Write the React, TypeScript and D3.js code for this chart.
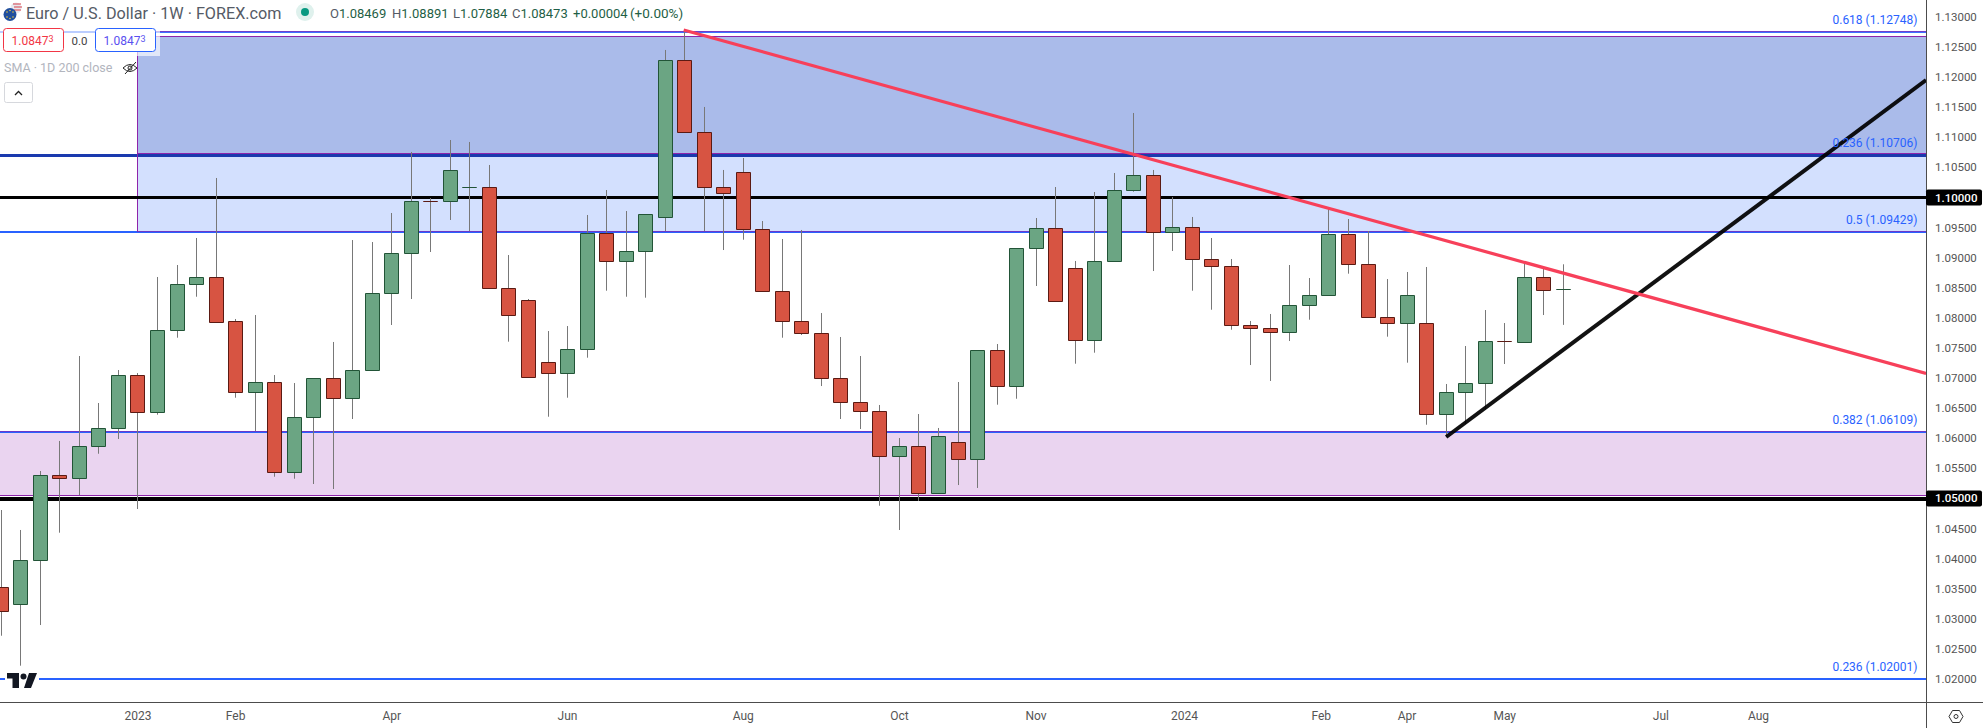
import React, { useEffect, useRef } from "react";
import * as d3 from "d3";

const opens = [
  1.03523, 1.03234, 1.03972, 1.05385, 1.05328, 1.0586, 1.06159, 1.07046, 1.06425, 1.07787,
  1.08552, 1.08675, 1.07943, 1.06757, 1.0693, 1.05428, 1.06342, 1.06996, 1.06657, 1.07123,
  1.08409, 1.09067, 1.09938, 1.09938, 1.10167, 1.1017, 1.08492, 1.08293, 1.07262, 1.07073,
  1.07478, 1.09406, 1.08934, 1.09107, 1.09665, 1.12281, 1.11084, 1.1017, 1.10419, 1.09472,
  1.08442, 1.07943, 1.07744, 1.06996, 1.06598, 1.06448, 1.05694, 1.05866, 1.05079, 1.05933,
  1.05644, 1.07462, 1.06857, 1.0915, 1.09489, 1.08824, 1.07621, 1.08934, 1.10114, 1.1037,
  1.09422, 1.09506, 1.08974, 1.08857, 1.07877, 1.07827, 1.07754, 1.08203, 1.08369, 1.09389,
  1.08891, 1.0801, 1.07904, 1.0791, 1.06392, 1.06757, 1.06907, 1.07611, 1.07588, 1.08675,
  1.08469,
];
const closes = [
  1.03118, 1.03977, 1.05385, 1.05328, 1.05866, 1.06166, 1.07046, 1.06425, 1.07794, 1.08558,
  1.08675, 1.0792, 1.06757, 1.0693, 1.05428, 1.06348, 1.06996, 1.06657, 1.07129, 1.08409,
  1.09073, 1.09938, 1.09933, 1.10453, 1.1017, 1.08492, 1.08037, 1.07006, 1.07073, 1.07478,
  1.09406, 1.08934, 1.09107, 1.09722, 1.12281, 1.11077, 1.10164, 1.10064, 1.09466, 1.08435,
  1.07937, 1.07744, 1.0699, 1.06591, 1.06441, 1.05694, 1.05866, 1.05079, 1.06033, 1.05644,
  1.07462, 1.06857, 1.09157, 1.09489, 1.08269, 1.07621, 1.08941, 1.1012, 1.1037, 1.09422,
  1.09506, 1.08974, 1.08857, 1.0787, 1.07821, 1.07754, 1.08209, 1.08376, 1.09389, 1.08884,
  1.08003, 1.07904, 1.08376, 1.06392, 1.06764, 1.06913, 1.07611, 1.07605, 1.08675, 1.08452,
  1.08473,
];
const highs = [
  1.04808, 1.04476, 1.05456, 1.05955, 1.07367, 1.06586, 1.07134, 1.07084, 1.0868, 1.08879,
  1.09328, 1.10325, 1.07982, 1.08048, 1.07051, 1.06918, 1.06996, 1.076, 1.09294, 1.09261,
  1.09743, 1.10757, 1.09992, 1.10956, 1.10923, 1.10541, 1.09045, 1.08314, 1.07782, 1.07865,
  1.0971, 1.10125, 1.09776, 1.09722, 1.12452, 1.12784, 1.11505, 1.10458, 1.10657, 1.0961,
  1.09311, 1.09461, 1.08081, 1.07683, 1.07367, 1.06553, 1.06004, 1.06403, 1.06171, 1.06935,
  1.07462, 1.07566, 1.09157, 1.0966, 1.10175, 1.08946, 1.10092, 1.10408, 1.11405, 1.10458,
  1.10009, 1.09677, 1.09328, 1.08979, 1.07949, 1.08065, 1.08879, 1.08663, 1.0981, 1.09643,
  1.09444, 1.08646, 1.08763, 1.08846, 1.06902, 1.07533, 1.08131, 1.07915, 1.08946, 1.08846,
  1.08891,
];
const lows = [
  1.02719, 1.02221, 1.02897, 1.04431, 1.05057, 1.05743, 1.05988, 1.04825, 1.06392, 1.07671,
  1.08352, 1.0792, 1.06674, 1.06121, 1.05361, 1.05328, 1.0524, 1.05157, 1.0632, 1.07123,
  1.07882, 1.08314, 1.09095, 1.09627, 1.09444, 1.08492, 1.07605, 1.07006, 1.06358, 1.06674,
  1.07339, 1.08452, 1.08352, 1.08336, 1.09444, 1.11077, 1.09444, 1.09128, 1.09299, 1.08435,
  1.07671, 1.07716, 1.06868, 1.0632, 1.06154, 1.04879, 1.04476, 1.04958, 1.05079, 1.05223,
  1.05174, 1.06558, 1.06657, 1.0853, 1.08269, 1.07239, 1.07422, 1.08934, 1.10097, 1.08779,
  1.09112, 1.08452, 1.08136, 1.07804, 1.07217, 1.06952, 1.07616, 1.0797, 1.08369, 1.08735,
  1.08003, 1.07688, 1.07256, 1.06225, 1.06021, 1.06237, 1.06481, 1.07234, 1.07588, 1.08048,
  1.07884,
];

const fibLevels = [1.12748, 1.10706, 1.09429, 1.06109, 1.02001];
const fibNames = ["0.618", "0.236", "0.5", "0.382", "0.236"];
const roundLevels = [1.1, 1.05];
const xTickIndex = [7, 12, 20, 29, 38, 46, 53, 60.6, 67.6, 72, 77, 85, 90];
const xTickLabels = ["2023", "Feb", "Apr", "Jun", "Aug", "Oct", "Nov", "2024", "Feb", "Apr", "May", "Jul", "Aug"];
// trend lines, by bar index and price
const redTrendIndex = [34.95, 98.58];
const redTrendPrice = [1.12784, 1.07078];
const blackTrendIndex = [74, 98.58];
const blackTrendPrice = [1.06021, 1.11953];
const ohlcLabels = ["O", "H", "L", "C"];
const ohlcValues = ["1.08469", "1.08891", "1.07884", "1.08473"];

const FONT = "Roboto, 'Noto Sans', sans-serif";

const App = () => {
  const ref = useRef<SVGSVGElement | null>(null);
  const width = 1983;
  const height = 728;
  const axisX = 1926;
  const axisY = 702;

  useEffect(() => {
    document.body.style.margin = "0";
    const svg = d3.select(ref.current).attr("width", width).attr("height", height);
    svg.selectAll("*").remove();

    const x = d3.scaleLinear().domain([0, 80]).range([1.3, 1563.3]);
    const y = d3.scaleLinear().domain([1.13, 1.02]).range([17, 679]);
    const px = (i: number) => Math.floor(x(i)) + 0.5;
    const py = (p: number) => Math.floor(y(p)) + 0.5;

    svg.append("rect").attr("width", width).attr("height", height).attr("fill", "#fff");

    const defs = svg.append("defs");
    defs.append("clipPath").attr("id", "plot").append("rect").attr("width", axisX).attr("height", axisY);
    const plot = svg.append("g").attr("clip-path", "url(#plot)");

    // fib zones
    const zoneLeft = px(7);
    const zoneTop = 1.12676;
    const zoneMid = 1.10732;
    const zoneLow = 1.05049;
    const zone = (x0: number, p0: number, p1: number, fill: string) =>
      plot.append("rect").attr("x", x0).attr("width", axisX - x0)
        .attr("y", y(p0)).attr("height", y(p1) - y(p0)).attr("fill", fill);
    zone(zoneLeft, zoneTop, fibLevels[2], "#d3e0fe");
    zone(zoneLeft, zoneTop, zoneMid, "#aabbea");
    zone(0, fibLevels[3], zoneLow, "#ead4f0");

    // one pixel rows, snapped so the lines stay sharp
    const row = (x0: number, yy: number, color: string, w: number) =>
      plot.append("line").attr("x1", x0).attr("x2", axisX).attr("y1", yy).attr("y2", yy)
        .attr("stroke", color).attr("stroke-width", w);
    const fibRow = (p: number) => Math.round(y(p) - 0.9);
    const purple = "#8e24aa";

    row(0, fibRow(fibLevels[0]) + 1, "#2962ff", 2).attr("stroke-opacity", 0.9);
    row(0, Math.floor(y(fibLevels[1])) + 0.5, "#1a3aae", 3);
    row(0, fibRow(fibLevels[2]) + 1, "#2962ff", 2);
    row(0, fibRow(fibLevels[3]) + 1, "#2962ff", 2);
    row(0, fibRow(fibLevels[4]) + 1, "#2962ff", 2);
    row(zoneLeft, fibRow(fibLevels[0]) + 0.5, purple, 1).attr("stroke-opacity", 0.65);
    row(zoneLeft, py(zoneTop), purple, 1);
    row(zoneLeft, py(zoneMid), purple, 1);
    row(zoneLeft, fibRow(fibLevels[2]) + 0.5, purple, 1).attr("stroke-opacity", 0.65);
    row(0, fibRow(fibLevels[3]) + 0.5, purple, 1).attr("stroke-opacity", 0.65);
    row(0, py(zoneLow), purple, 1);
    plot.append("line").attr("x1", zoneLeft).attr("x2", zoneLeft)
      .attr("y1", y(fibLevels[0])).attr("y2", y(fibLevels[2]))
      .attr("stroke", purple).attr("stroke-width", 1);

    row(0, Math.floor(y(roundLevels[0])) + 0.5, "#000", 3);
    row(0, Math.floor(y(roundLevels[1])) + 1, "#000", 4);

    // candles
    const candles = plot.append("g");
    opens.forEach((o, i) => {
      const c = closes[i];
      const up = c >= o;
      const cx = px(i);
      candles.append("line").attr("x1", cx).attr("x2", cx)
        .attr("y1", y(highs[i])).attr("y2", y(lows[i]))
        .attr("stroke", "#787878").attr("stroke-width", 1);
      const top = py(Math.max(o, c));
      const bot = py(Math.min(o, c));
      candles.append("path")
        .attr("d", `M${cx - 7} ${top}H${cx + 7}V${bot}H${cx - 7}Z`)
        .attr("fill", up ? "#6ba583" : "#d75442")
        .attr("stroke", up ? "#225437" : "#5b1a13")
        .attr("stroke-width", 1);
    });

    // trend lines
    const trend = d3.line<[number, number]>().x((d) => x(d[0])).y((d) => y(d[1]));
    const blackPts = blackTrendIndex.map((d, i) => [d, blackTrendPrice[i]] as [number, number]);
    const redPts = redTrendIndex.map((d, i) => [d, redTrendPrice[i]] as [number, number]);
    plot.append("path").attr("d", trend(blackPts)).attr("fill", "none")
      .attr("stroke", "#000").attr("stroke-opacity", 0.93).attr("stroke-width", 4);
    plot.append("path").attr("d", trend(redPts)).attr("fill", "none")
      .attr("stroke", "#f7405a").attr("stroke-width", 3.2);

    // fib labels
    plot.selectAll(".fib").data(fibLevels).enter().append("text")
      .attr("x", 1917.5).attr("y", (d) => y(d) - 12)
      .attr("dy", "0.35em").attr("text-anchor", "end")
      .attr("font-family", FONT).attr("font-size", 12).attr("fill", "#2962ff")
      .text((d, i) => `${fibNames[i]} (${d.toFixed(5)})`);

    // axes
    svg.append("line").attr("x1", axisX + 0.5).attr("x2", axisX + 0.5).attr("y1", 0).attr("y2", height)
      .attr("stroke", "#4c4c4c");
    svg.append("line").attr("x1", 0).attr("x2", width).attr("y1", axisY + 0.5).attr("y2", axisY + 0.5)
      .attr("stroke", "#4c4c4c");

    const yTicks = y.ticks(22).filter((t) => !roundLevels.some((r) => Math.abs(r - t) < 1e-6));
    svg.selectAll(".ytick").data(yTicks).enter().append("text")
      .attr("x", 1935).attr("y", (d) => y(d)).attr("dy", "0.35em")
      .attr("font-family", FONT).attr("font-size", 11.5).attr("fill", "#555")
      .text((d) => d3.format(".5f")(d));

    roundLevels.forEach((p) => {
      svg.append("rect").attr("x", axisX).attr("y", y(p) - 8).attr("width", 56).attr("height", 16)
        .attr("rx", 2).attr("fill", "#000");
      svg.append("text").attr("x", 1935).attr("y", y(p)).attr("dy", "0.35em")
        .attr("font-family", FONT).attr("font-size", 11.5).attr("font-weight", 500).attr("fill", "#fff")
        .text(d3.format(".5f")(p));
    });

    svg.selectAll(".xtick").data(xTickIndex).enter().append("text")
      .attr("x", (d) => x(d)).attr("y", 716).attr("dy", "0.35em").attr("text-anchor", "middle")
      .attr("font-family", FONT).attr("font-size", 12).attr("fill", "#555")
      .text((d, i) => xTickLabels[i]);

    // settings icon
    const gear = svg.append("g").attr("transform", "translate(1956,716.5)");
    gear.append("path").attr("d", "M-7 0L-3.5 -6H3.5L7 0L3.5 6H-3.5Z").attr("fill", "none").attr("stroke", "#333");
    gear.append("circle").attr("r", 2).attr("fill", "none").attr("stroke", "#333");

    // tradingview logo
    const logo = svg.append("g").attr("transform", "translate(7,673)");
    logo.append("rect").attr("x", -2).attr("y", -2).attr("width", 34).attr("height", 19).attr("fill", "#fff");
    logo.append("path").attr("d", "M0 0H12V15H5.5V5.5H0Z").attr("fill", "#131722");
    logo.append("circle").attr("cx", 16.5).attr("cy", 3.5).attr("r", 3).attr("fill", "#131722");
    logo.append("path").attr("d", "M22 0H30L24 15H17Z").attr("fill", "#131722");

    // header
    svg.append("rect").attr("x", 0).attr("y", 28).attr("width", 160).attr("height", 28)
      .attr("fill", "#fff").attr("fill-opacity", 0.65);
    const flag = svg.append("g");
    flag.append("circle").attr("cx", 16).attr("cy", 8).attr("r", 5.5).attr("fill", "#e8e8ee");
    flag.append("path").attr("d", "M13 4H21M14 7H22M14 10H21").attr("stroke", "#d8404a").attr("stroke-width", 1.2);
    flag.append("circle").attr("cx", 10).attr("cy", 14.5).attr("r", 6.5).attr("fill", "#1f4e9e");
    [[7, 12], [10, 10.5], [13, 12], [7, 17], [10, 18.5], [13, 17]].forEach(([a, b]) =>
      flag.append("circle").attr("cx", a).attr("cy", b).attr("r", 0.8).attr("fill", "#e8c83c"));

    svg.append("text").attr("x", 26).attr("y", 13).attr("dy", "0.35em")
      .attr("font-family", FONT).attr("font-size", 16.2).attr("fill", "#555b66")
      .text("Euro / U.S. Dollar · 1W · FOREX.com");
    svg.append("circle").attr("cx", 305).attr("cy", 12).attr("r", 9).attr("fill", "#dff1ed");
    svg.append("circle").attr("cx", 305).attr("cy", 12).attr("r", 4).attr("fill", "#089981");

    const ohlcX = [330, 392, 453, 512];
    ohlcLabels.forEach((l, i) => {
      const t = svg.append("text").attr("x", ohlcX[i]).attr("y", 13).attr("dy", "0.35em")
        .attr("font-family", FONT).attr("font-size", 13).attr("fill", "#555b66");
      t.append("tspan").text(l);
      t.append("tspan").attr("fill", "#1f5f46").text(ohlcValues[i]);
    });
    svg.append("text").attr("x", 573).attr("y", 13).attr("dy", "0.35em")
      .attr("font-family", FONT).attr("font-size", 13).attr("fill", "#1f5f46").text("+0.00004");
    svg.append("text").attr("x", 630).attr("y", 13).attr("dy", "0.35em")
      .attr("font-family", FONT).attr("font-size", 13.5).attr("fill", "#1f5f46").text("(+0.00%)");

    const box = (bx: number, stroke: string, fill: string) => {
      svg.append("rect").attr("x", bx).attr("y", 28.5).attr("width", 60).attr("height", 23).attr("rx", 3)
        .attr("fill", "#fff").attr("stroke", stroke);
      const t = svg.append("text").attr("x", bx + 8).attr("y", 40.5).attr("dy", "0.35em")
        .attr("font-family", FONT).attr("font-size", 12).attr("fill", fill);
      t.append("tspan").text("1.0847");
      t.append("tspan").attr("font-size", 9).attr("dy", "-0.25em").text("3");
    };
    box(3.5, "#f23645", "#f23645");
    box(95.5, "#2962ff", "#5a50f0");
    svg.append("text").attr("x", 79.5).attr("y", 40.5).attr("dy", "0.35em").attr("text-anchor", "middle")
      .attr("font-family", FONT).attr("font-size", 11.5).attr("fill", "#444").text("0.0");

    svg.append("text").attr("x", 4).attr("y", 68).attr("dy", "0.35em")
      .attr("font-family", FONT).attr("font-size", 12.5).attr("fill", "#b2b5be")
      .text("SMA · 1D 200 close");
    const eye = svg.append("g").attr("transform", "translate(130,68)").attr("fill", "none").attr("stroke", "#222");
    eye.append("path").attr("d", "M-7 0Q0 -7 7 0Q0 7 -7 0Z");
    eye.append("circle").attr("r", 2);
    eye.append("path").attr("d", "M-5 6L6 -6");

    svg.append("rect").attr("x", 4.5).attr("y", 82.5).attr("width", 28).attr("height", 20).attr("rx", 2)
      .attr("fill", "#fff").attr("stroke", "#d6d8dd");
    svg.append("path").attr("d", "M15 95L18.5 91.5L22 95").attr("fill", "none").attr("stroke", "#222").attr("stroke-width", 1.3);
  }, []);

  return <svg ref={ref} style={{ display: "block", position: "absolute", left: 0, top: 0 }}></svg>;
};

export default App;
